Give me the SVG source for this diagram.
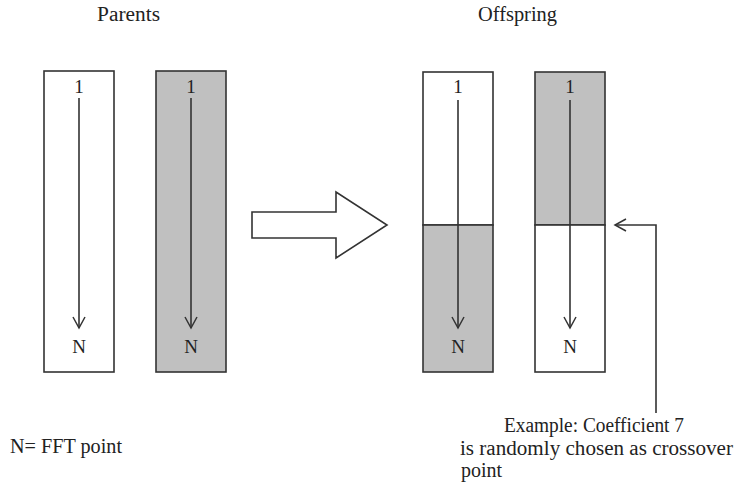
<svg xmlns="http://www.w3.org/2000/svg" width="735" height="487" viewBox="0 0 735 487">
<style>
  text { font-family: "Liberation Serif", "Times New Roman", serif; fill: #222; }
  .lbl { font-size: 20px; }
  .d { font-size: 19px; text-anchor: middle; }
  .box { stroke: #333; stroke-width: 1.6; }
  .w { fill: #ffffff; }
  .g { fill: #c0c0c0; }
  .ln { fill: none; stroke: #333; stroke-width: 1.6; }
</style>
<defs>
  <marker id="v" viewBox="0 0 14 14" refX="12" refY="7" markerWidth="14" markerHeight="14" markerUnits="userSpaceOnUse" orient="auto">
    <path d="M1,1 L12,7 L1,13" fill="none" stroke="#333" stroke-width="1.5"/>
  </marker>
</defs>
<rect width="735" height="487" fill="#ffffff"/>

<text class="lbl" x="97" y="21" textLength="63" lengthAdjust="spacingAndGlyphs">Parents</text>
<text class="lbl" x="478" y="21" textLength="79" lengthAdjust="spacingAndGlyphs">Offspring</text>

<g id="parent1">
  <rect class="box w" x="44" y="71" width="70" height="301"/>
  <text class="d" x="79" y="93">1</text>
  <text class="d" x="79" y="353">N</text>
</g>
<g id="parent2">
  <rect class="box g" x="156" y="71" width="70" height="301"/>
  <text class="d" x="191" y="93">1</text>
  <text class="d" x="191" y="353">N</text>
</g>
<g id="big-arrow">
  <polygon class="box w" points="252,212 336,212 336,192 387,225 336,258 336,238 252,238"/>
</g>
<g id="offspring1">
  <rect class="box w" x="423" y="72" width="70" height="153"/>
  <rect class="box g" x="423" y="225" width="70" height="147"/>
  <text class="d" x="458" y="93">1</text>
  <text class="d" x="458" y="353">N</text>
</g>
<g id="offspring2">
  <rect class="box g" x="535" y="72" width="70" height="153"/>
  <rect class="box w" x="535" y="225" width="70" height="147"/>
  <text class="d" x="570" y="93">1</text>
  <text class="d" x="570" y="353">N</text>
</g>

<g id="connectors">
  <line class="ln" x1="79" y1="98" x2="79" y2="328" marker-end="url(#v)"/>
  <line class="ln" x1="191" y1="98" x2="191" y2="328" marker-end="url(#v)"/>
  <line class="ln" x1="458" y1="100" x2="458" y2="328" marker-end="url(#v)"/>
  <line class="ln" x1="570" y1="100" x2="570" y2="328" marker-end="url(#v)"/>
  <polyline class="ln" points="656,413 656,225 615,225" marker-end="url(#v)"/>
</g>

<g id="note">
  <text class="lbl" x="504" y="432" textLength="180" lengthAdjust="spacingAndGlyphs">Example: Coefficient 7</text>
  <text class="lbl" x="460" y="455" textLength="273" lengthAdjust="spacingAndGlyphs">is randomly chosen as crossover</text>
  <text class="lbl" x="461" y="477">point</text>
</g>
<text class="lbl" x="10" y="453" textLength="112" lengthAdjust="spacingAndGlyphs">N= FFT point</text>
</svg>
